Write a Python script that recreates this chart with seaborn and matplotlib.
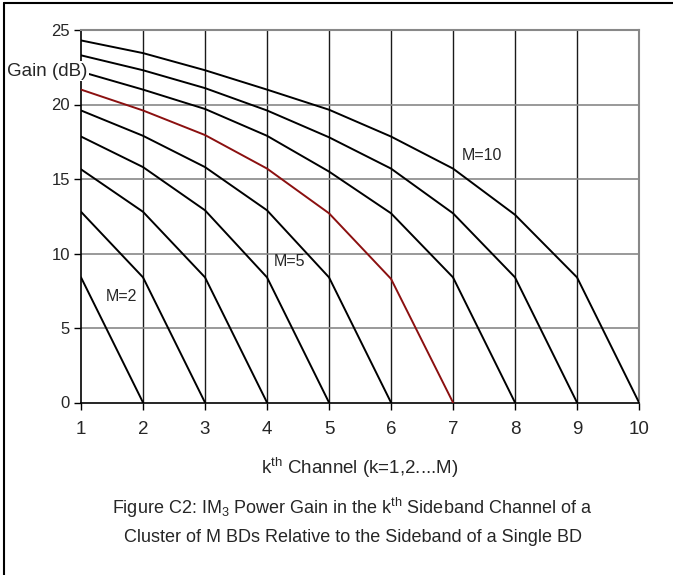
import matplotlib
matplotlib.use("Agg")
import matplotlib.pyplot as plt
import seaborn as sns
import pandas as pd

# Gain (dB) for channel k = 1..M, per cluster size M
gain_M2 = [8.4, 0]
gain_M3 = [12.8, 8.4, 0]
gain_M4 = [15.65, 12.8, 8.4, 0]
gain_M5 = [17.85, 15.8, 12.9, 8.4, 0]
gain_M6 = [19.6, 17.9, 15.8, 12.9, 8.4, 0]
gain_M7 = [21.0, 19.6, 17.95, 15.7, 12.7, 8.3, 0]
gain_M8 = [22.2, 21.0, 19.7, 17.9, 15.5, 12.7, 8.4, 0]
gain_M9 = [23.3, 22.3, 21.1, 19.6, 17.8, 15.7, 12.7, 8.4, 0]
gain_M10 = [24.3, 23.45, 22.3, 21.0, 19.65, 17.85, 15.7, 12.6, 8.4, 0]

series = {2: gain_M2, 3: gain_M3, 4: gain_M4, 5: gain_M5, 6: gain_M6,
          7: gain_M7, 8: gain_M8, 9: gain_M9, 10: gain_M10}

x_ticks = [1, 2, 3, 4, 5, 6, 7, 8, 9, 10]
y_ticks = [0, 5, 10, 15, 20, 25]

rows = []
for M, vals in series.items():
    for k, g in enumerate(vals, start=1):
        rows.append({"M": M, "k": k, "gain": g})
df = pd.DataFrame(rows)

sns.set_theme(style="white")
plt.rcParams['font.family'] = ['Liberation Sans', 'DejaVu Sans']
plt.rcParams['mathtext.fontset'] = 'custom'
plt.rcParams['mathtext.rm'] = 'Liberation Sans'

fig = plt.figure(figsize=(6.73, 5.75), dpi=100)
ax = fig.add_axes([81/673, 1 - 402.5/575, (639 - 81)/673, (402.5 - 30)/575])

# grid
for xv in x_ticks[1:-1]:
    ax.axvline(xv, color="#1a1a1a", lw=1.0, zorder=1)
for yv in y_ticks[1:]:
    ax.axhline(yv, color="#888888", lw=1.2, zorder=1)

palette = {M: ("#8B1010" if M == 7 else "black") for M in series}
sns.lineplot(data=df, x="k", y="gain", hue="M", palette=palette,
             legend=False, lw=1.4, ax=ax, zorder=3, sort=False,
             estimator=None, units="M")

ax.set_xlim(1, 10)
ax.set_ylim(0, 25)
ax.set_xticks(x_ticks)
ax.set_yticks(y_ticks)
ax.set_xticklabels([str(v) for v in x_ticks], fontsize=13.5)
ax.set_yticklabels([str(v) for v in y_ticks], fontsize=12)
ax.tick_params(axis="x", direction="out", length=5, width=1, color="black", pad=8)
ax.tick_params(axis="y", direction="out", length=5, width=1, color="black", pad=3)
ax.tick_params(bottom=True, left=True)

for s in ["left", "bottom"]:
    ax.spines[s].set_color("black")
    ax.spines[s].set_linewidth(1.2)
for s in ["top", "right"]:
    ax.spines[s].set_color("#888888")
    ax.spines[s].set_linewidth(1.5)

ax.set_xlabel("")
ax.set_ylabel("")

# y-axis title with white background
fig.text(7/673, 1 - 71/575, "Gain (dB)", fontsize=13.5, ha="left", va="center",
         bbox=dict(facecolor="white", edgecolor="none", pad=1.0), zorder=10)

# curve labels
ax.text(1.66, 7.1, "M=2", fontsize=11.5, ha="center", va="center")
ax.text(4.37, 9.45, "M=5", fontsize=11.5, ha="center", va="center")
ax.text(7.46, 16.6, "M=10", fontsize=11.5, ha="center", va="center")

# x-axis title and caption
fig.text(360/673, 1 - 468/575, r"k$^{\rm th}$ Channel (k=1,2....M)", fontsize=13.5,
         ha="center", va="center")
fig.text(352/673, 1 - 508/575,
         r"Figure C2: IM$_{\rm 3}$ Power Gain in the k$^{\rm th}$ Sideband Channel of a",
         fontsize=13, ha="center", va="center")
fig.text(353/673, 1 - 538/575,
         "Cluster of M BDs Relative to the Sideband of a Single BD",
         fontsize=13, ha="center", va="center")

# figure frame (left and top edges visible)
fig.add_artist(plt.Line2D([4/673, 4/673], [0, 1 - 3/575], transform=fig.transFigure,
                          color="black", lw=1.5))
fig.add_artist(plt.Line2D([4/673, 1], [1 - 3/575, 1 - 3/575], transform=fig.transFigure,
                          color="black", lw=1.5))

fig.savefig("out.png", dpi=100)
